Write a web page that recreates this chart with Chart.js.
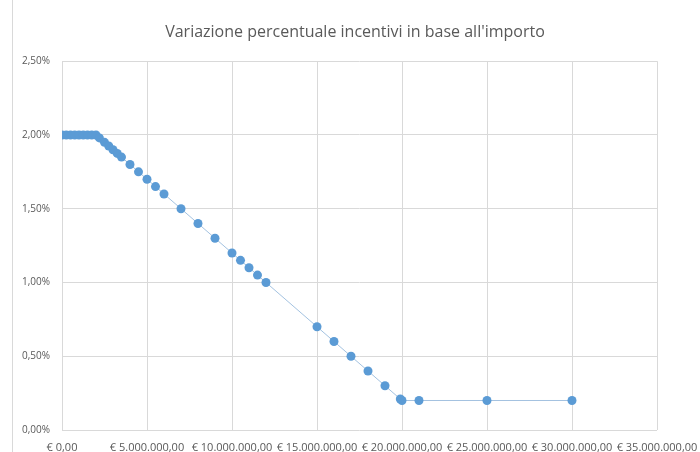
<!DOCTYPE html>
<html>
<head>
<meta charset="utf-8">
<script src="https://cdn.jsdelivr.net/npm/chart.js@4/dist/chart.umd.min.js"></script>
<style>
  html, body { margin: 0; padding: 0; background: #ffffff; }
  #wrap { position: relative; width: 700px; height: 452px; overflow: hidden; }
  #frame { position: absolute; left: 12px; top: 0; width: 700px; height: 452px; border-left: 1px solid #d9d9d9; box-sizing: border-box; pointer-events: none; }
  canvas { display: block; }
</style>
</head>
<body>
<div id="wrap">
  <canvas id="chart" width="700" height="452"></canvas>
  <div id="frame"></div>
</div>
<script>
// Importo (euro) e incentivo percentuale corrispondente
const importi = [
  0, 250000, 500000, 750000, 1000000, 1250000, 1500000, 1750000, 2000000,
  2200000, 2500000, 2750000, 3000000, 3250000, 3500000,
  4000000, 4500000, 5000000, 5500000, 6000000,
  7000000, 8000000, 9000000, 10000000, 10500000, 11000000, 11500000, 12000000,
  15000000, 16000000, 17000000, 18000000, 19000000, 19900000, 20000000,
  21000000, 25000000, 30000000
];
const incentivi = [
  2.00, 2.00, 2.00, 2.00, 2.00, 2.00, 2.00, 2.00, 2.00,
  1.98, 1.95, 1.925, 1.90, 1.875, 1.85,
  1.80, 1.75, 1.70, 1.65, 1.60,
  1.50, 1.40, 1.30, 1.20, 1.15, 1.10, 1.05, 1.00,
  0.70, 0.60, 0.50, 0.40, 0.30, 0.21, 0.20,
  0.20, 0.20, 0.20
];
const titolo = "Variazione percentuale incentivi in base all'importo";

// Formattazione all'italiana: separatore migliaia "." e decimali ","
function euro(v) {
  const intPart = Math.round(v).toString().replace(/\B(?=(\d{3})+(?!\d))/g, '.');
  return '€ ' + intPart + ',00';
}
function perc(v) {
  return v.toFixed(2).replace('.', ',') + '%';
}

const punti = importi.map((x, i) => ({ x: x, y: incentivi[i] }));
const testo = '#595959';
const griglia = '#d9d9d9';

// Il titolo è centrato sull'intera cornice del grafico, non solo sull'area dati
const centraTitolo = {
  id: 'centraTitolo',
  afterLayout(chart) {
    const t = chart.titleBlock;
    if (t) {
      t.left = 12;
      t.right = 698;
      t.width = 686;
    }
  }
};

new Chart(document.getElementById('chart'), {
  type: 'scatter',
  data: {
    datasets: [{
      data: punti,
      showLine: true,
      borderColor: '#a3c2e0',
      borderWidth: 1,
      pointRadius: 4.5,
      pointBackgroundColor: '#5b9bd5',
      pointBorderColor: '#5b9bd5',
      pointBorderWidth: 0
    }]
  },
  plugins: [centraTitolo],
  options: {
    responsive: false,
    animation: false,
    layout: { padding: { left: 12, right: 43, top: 0, bottom: 0 } },
    plugins: {
      legend: { display: false },
      tooltip: { enabled: false },
      title: {
        display: true,
        text: titolo,
        color: testo,
        font: { family: 'Open Sans', size: 16, weight: 'normal' },
        padding: { top: 23, bottom: 19 }
      }
    },
    scales: {
      x: {
        type: 'linear',
        min: 0,
        max: 35000000,
        ticks: {
          stepSize: 5000000,
          color: testo,
          font: { family: 'Open Sans', size: 11 },
          padding: 11,
          maxRotation: 0,
          autoSkip: false,
          callback: v => euro(v)
        },
        grid: { color: griglia, drawTicks: false },
        border: { display: false },
        afterFit: s => { s.height = 22; s.paddingLeft = 0; s.paddingRight = 0; }
      },
      y: {
        min: 0,
        max: 2.5,
        ticks: {
          stepSize: 0.5,
          color: testo,
          font: { family: 'Open Sans', size: 10 },
          padding: 12,
          callback: v => perc(v)
        },
        grid: { color: griglia, drawTicks: false },
        border: { display: false },
        afterFit: s => { s.width = 50; }
      }
    }
  }
});
</script>
</body>
</html>
